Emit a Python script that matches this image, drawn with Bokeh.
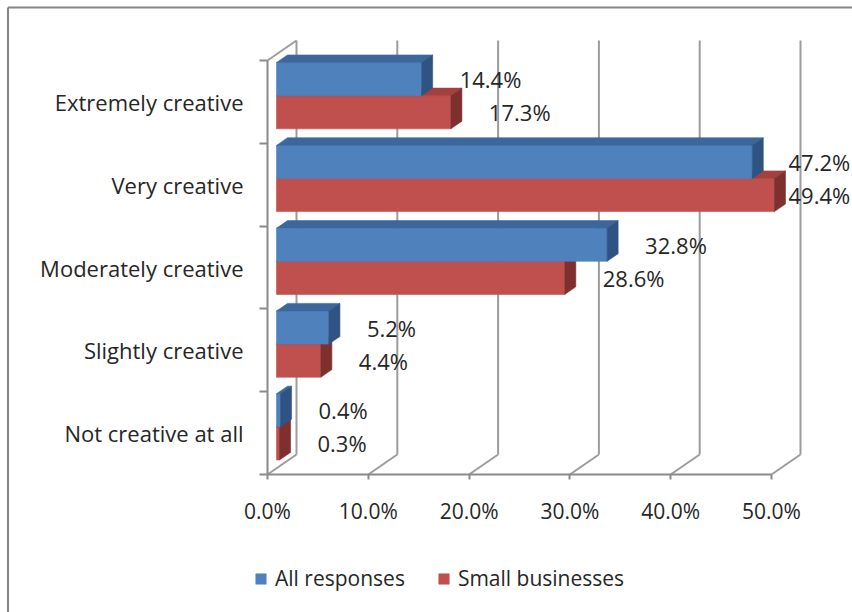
from bokeh.plotting import figure
from bokeh.models import Range1d, LinearAxis, FixedTicker, Legend, LegendItem, ColumnDataSource
from bokeh.core.properties import value
from bokeh.embed import file_html
from bokeh.resources import INLINE

# ---------------- data ----------------
categories = ["Extremely creative", "Very creative", "Moderately creative",
              "Slightly creative", "Not creative at all"]
all_responses = [14.4, 47.2, 32.8, 5.2, 0.4]
small_businesses = [17.3, 49.4, 28.6, 4.4, 0.3]
series_names = ["All responses", "Small businesses"]
x_ticks = [0, 10, 20, 30, 40, 50]
x_tick_labels = ["0.0%", "10.0%", "20.0%", "30.0%", "40.0%", "50.0%"]

# ---------------- layout / style ----------------
W, H = 852, 612
X0_PX, Y0_PX = 267, 474          # canvas position of the front axes origin
PX_PER_PCT = 10.08               # horizontal scale
PX_PER_CAT = 82.8                # vertical size of one category band

FONT = "Open Sans"
FS = "21px"
FS_BIG = "22px"
TXT = "#262626"
AXIS_COL = "#8A8A8A"
GRID_COL = "#9C9C9C"
BLUE = ("#4F81BD", "#3C679D", "#2F5484")   # front, top, side
RED = ("#C0504D", "#A3413E", "#7E302E")

DEPTH_X = 29 / PX_PER_PCT        # depth of the 3-D box in data units
DEPTH_Y = 20 / PX_PER_CAT
BAR_FRONT = 0.31                 # bars start at this fraction of the depth
BAR_DEPTH = 0.38                 # and are this deep
BAR_H = 0.4                      # bar thickness, category units
LABEL_GAP = 38                   # px between bar end and its label
LABEL_W = 64                     # px kept free for a label at the right edge


def sx(px):
    return (px - X0_PX) / PX_PER_PCT


def sy(py):
    return (Y0_PX - py) / PX_PER_CAT


p = figure(width=W, height=H,
           x_range=Range1d(sx(0), sx(W)), y_range=Range1d(sy(H), sy(0)),
           output_backend="svg", toolbar_location=None,
           x_axis_location=None, y_axis_location=None,
           min_border=0, outline_line_color=None,
           background_fill_color="white", border_fill_color="white")
p.xgrid.visible = False
p.ygrid.visible = False

n = len(categories)
top_val = x_ticks[-1]
centers = [n - 0.5 - i for i in range(n)]

# ---------------- chart-area border (top + left) ----------------
p.segment(x0=[sx(7.5), sx(7.5)], y0=[sy(H), sy(7)], x1=[sx(7.5), sx(W)], y1=[sy(7), sy(7)],
          line_color="#858585", line_width=2)

# ---------------- back wall & floor lines ----------------
gx, gy = [], []
for t in x_ticks:
    gx.append([t + DEPTH_X, t + DEPTH_X])
    gy.append([DEPTH_Y, n + DEPTH_Y])
    gx.append([t, t + DEPTH_X])
    gy.append([0, DEPTH_Y])
gx.append([0, DEPTH_X])
gy.append([n, n + DEPTH_Y])
p.multi_line(xs=gx, ys=gy, line_color=GRID_COL, line_width=2)

# ---------------- 3-D bars ----------------
dx0, dy0 = BAR_FRONT * DEPTH_X, BAR_FRONT * DEPTH_Y
bdx, bdy = BAR_DEPTH * DEPTH_X, BAR_DEPTH * DEPTH_Y

front_renderers = {}
for name, vals, cols, above in [(series_names[1], small_businesses, RED, False),
                                (series_names[0], all_responses, BLUE, True)]:
    lefts, rights, bottoms, tops = [], [], [], []
    txs, tys, sxs, sys_ = [], [], [], []
    for c, v in zip(centers, vals):
        y0 = c if above else c - BAR_H
        y1 = y0 + BAR_H
        L, R, B, T = dx0, v + dx0, y0 + dy0, y1 + dy0
        lefts.append(L); rights.append(R); bottoms.append(B); tops.append(T)
        txs.append([L, R, R + bdx, L + bdx])
        tys.append([T, T, T + bdy, T + bdy])
        sxs.append([R, R + bdx, R + bdx, R])
        sys_.append([B, B + bdy, T + bdy, T])
    fr = p.quad(left=lefts, right=rights, bottom=bottoms, top=tops,
                fill_color=cols[0], line_color=cols[0], line_width=0.6)
    p.patches(xs=txs, ys=tys, fill_color=cols[1], line_color=cols[1], line_width=0.6)
    p.patches(xs=sxs, ys=sys_, fill_color=cols[2], line_color=cols[2], line_width=0.6)
    front_renderers[name] = fr

# ---------------- data labels (kept inside the chart area) ----------------
x_limit = sx(W - LABEL_W)
lab_x, lab_y, lab_t = [], [], []
for c, va, vs in zip(centers, all_responses, small_businesses):
    lab_x += [min(va + dx0 + LABEL_GAP / PX_PER_PCT, x_limit),
              min(vs + dx0 + LABEL_GAP / PX_PER_PCT, x_limit)]
    lab_y += [c + BAR_H / 2 + dy0, c - BAR_H / 2 + dy0]
    lab_t += [f"{va:.1f}%", f"{vs:.1f}%"]
p.text(x="x", y="y", text="t", source=ColumnDataSource(dict(x=lab_x, y=lab_y, t=lab_t)),
       text_font=value(FONT), text_font_size=value(FS_BIG), text_color=TXT,
       text_align="left", text_baseline="middle")

# ---------------- axes ----------------
xaxis = LinearAxis(fixed_location=0, ticker=FixedTicker(ticks=x_ticks),
                   bounds=(x_ticks[0], top_val),
                   major_label_overrides={t: l for t, l in zip(x_ticks, x_tick_labels)},
                   axis_line_color=AXIS_COL, axis_line_width=2,
                   major_tick_out=5, major_tick_in=0,
                   major_tick_line_color=AXIS_COL, major_tick_line_width=2,
                   minor_tick_line_color=None,
                   major_label_standoff=17,
                   major_label_text_font=FONT, major_label_text_font_size=FS,
                   major_label_text_color=TXT)
p.add_layout(xaxis, "below")

yaxis = LinearAxis(fixed_location=0,
                   ticker=FixedTicker(ticks=centers, minor_ticks=list(range(n + 1))),
                   bounds=(0, n),
                   major_label_overrides={c: name for c, name in zip(centers, categories)},
                   axis_line_color=AXIS_COL, axis_line_width=2,
                   major_tick_out=0, major_tick_in=0, major_tick_line_color=None,
                   minor_tick_out=8, minor_tick_in=0,
                   minor_tick_line_color=AXIS_COL, minor_tick_line_width=2,
                   major_label_standoff=16,
                   major_label_text_font=FONT, major_label_text_font_size=FS_BIG,
                   major_label_text_color=TXT)
p.add_layout(yaxis, "left")

# ---------------- legend ----------------
legend = Legend(items=[LegendItem(label=nm, renderers=[front_renderers[nm]]) for nm in series_names],
                orientation="horizontal", location=(254, 20),
                glyph_width=13, glyph_height=13, label_standoff=8, spacing=32,
                padding=0, margin=0, border_line_color=None, background_fill_alpha=0,
                label_text_font=FONT, label_text_font_size=FS, label_text_color=TXT,
                label_height=21)
p.add_layout(legend)

open("out.html", "w").write(file_html(p, INLINE))
